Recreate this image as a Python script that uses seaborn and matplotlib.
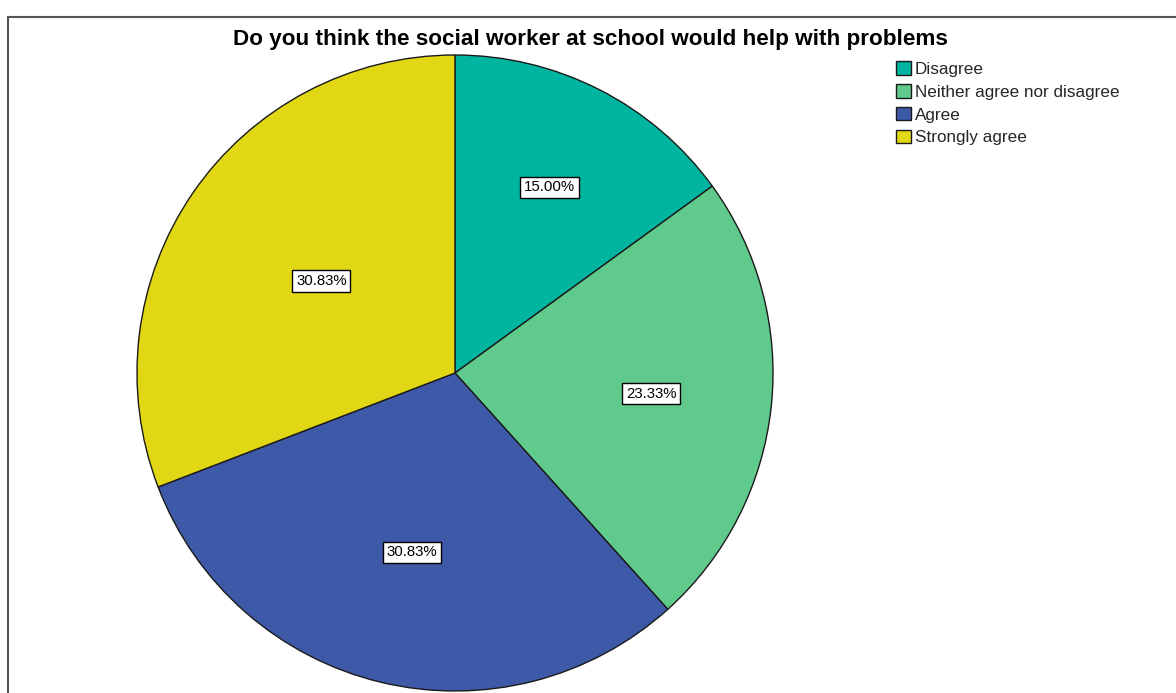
import matplotlib
matplotlib.use("Agg")
import matplotlib.pyplot as plt
from matplotlib.lines import Line2D
import numpy as np
import seaborn as sns

categories = ["Disagree", "Neither agree nor disagree", "Agree", "Strongly agree"]
percentages = [15.00, 23.33, 30.83, 30.83]
colors = ["#00B5A0", "#5FCA8C", "#3E59A8", "#E2D714"]
label_radius = [0.655, 0.62, 0.58, 0.51]
title = "Do you think the social worker at school would help with problems"

sns.set_theme(style="white")
plt.rcParams["font.family"] = ["Liberation Sans", "DejaVu Sans"]

W, H = 1176, 693
fig = plt.figure(figsize=(W / 100, H / 100), dpi=100)
fig.patch.set_facecolor("white")

# pie centred at (455, 373) px, radius 318 px
cx, cy, r = 455, 373, 318
ax = fig.add_axes([(cx - r) / W, (H - cy - r) / H, 2 * r / W, 2 * r / H])

wedges, _ = ax.pie(
    percentages, colors=colors, startangle=90, counterclock=False, radius=1,
    wedgeprops=dict(edgecolor="#1a1a1a", linewidth=1.0),
)
ax.set_xlim(-1, 1)
ax.set_ylim(-1, 1)
ax.set_aspect("equal")
ax.axis("off")

for w, pct, rr in zip(wedges, percentages, label_radius):
    mid = np.deg2rad((w.theta1 + w.theta2) / 2)
    ax.text(rr * np.cos(mid), rr * np.sin(mid), f"{pct:.2f}%",
            ha="center", va="center", fontsize=10.8, color="black",
            bbox=dict(boxstyle="square,pad=0.25", facecolor="white",
                      edgecolor="black", linewidth=1.0))

fig.text(590 / W, 1 - 39 / H, title, ha="center", va="center",
         fontsize=16.2, fontweight="bold", color="black")

leg = fig.legend(wedges, categories, loc="upper left",
                 bbox_to_anchor=(896 / W, 1 - 61 / H), frameon=False,
                 fontsize=12.3, handlelength=0.85, handleheight=0.85,
                 handletextpad=0.25, labelspacing=0.42, borderpad=0,
                 borderaxespad=0)

# frame lines around the chart area
fig.add_artist(Line2D([8 / W, 1], [1 - 17 / H, 1 - 17 / H],
                      transform=fig.transFigure, color="#555555", lw=1.5))
fig.add_artist(Line2D([8 / W, 8 / W], [0, 1 - 17 / H],
                      transform=fig.transFigure, color="#555555", lw=1.5))

fig.savefig("out.png", dpi=100)
